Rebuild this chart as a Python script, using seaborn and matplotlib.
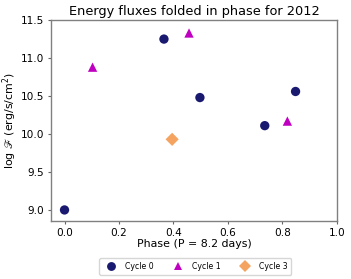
import pandas as pd
import numpy as np
import matplotlib
matplotlib.use("Agg")
import matplotlib.pyplot as plt
import seaborn as sns

# data
cycle0_phase = [0.0, 0.365, 0.497, 0.735, 0.848]
cycle0_flux = [9.00, 11.25, 10.48, 10.11, 10.56]
cycle1_phase = [0.103, 0.457, 0.818]
cycle1_flux = [10.88, 11.33, 10.17]
cycle3_phase = [0.395]
cycle3_flux = [9.93]

df = pd.concat([
    pd.DataFrame({"phase": cycle0_phase, "flux": cycle0_flux, "cycle": "Cycle 0"}),
    pd.DataFrame({"phase": cycle1_phase, "flux": cycle1_flux, "cycle": "Cycle 1"}),
    pd.DataFrame({"phase": cycle3_phase, "flux": cycle3_flux, "cycle": "Cycle 3"}),
], ignore_index=True)

sns.set_style("ticks", {"axes.edgecolor": "0.5", "text.color": "black",
                        "axes.labelcolor": "black"})
plt.rcParams['font.family'] = ['DejaVu Sans']

palette = {"Cycle 0": "#191970", "Cycle 1": "#c000c0", "Cycle 3": "#f4a460"}
markers = {"Cycle 0": "o", "Cycle 1": "^", "Cycle 3": "D"}

fig, ax = plt.subplots(figsize=(3.51, 2.79), dpi=100)
sns.scatterplot(data=df, x="phase", y="flux", hue="cycle", style="cycle",
                palette=palette, markers=markers, s=45, linewidth=0, ax=ax)

ax.set_xlim(-0.05, 1.0)
ax.set_ylim(8.855, 11.5)
ax.set_xticks(np.arange(0, 1.01, 0.2))
ax.set_yticks(np.arange(9.0, 11.51, 0.5))
ax.tick_params(labelsize=7.6, length=2.5, width=0.8, color="0.4", labelcolor="black", pad=2.5)
for sp in ax.spines.values():
    sp.set_linewidth(1.0)

ax.set_title("Energy fluxes folded in phase for 2012", fontsize=9.3, pad=4)
ax.set_xlabel("Phase (P = 8.2 days)", fontsize=7.9, labelpad=1)
ax.set_ylabel(r"log $\mathscr{F}$ (erg/s/cm$^2$)", fontsize=7.9, labelpad=1)

ax.legend(loc="upper center", bbox_to_anchor=(0.505, -0.165), ncol=3, fontsize=5.6,
          frameon=True, markerscale=0.95, handletextpad=0.8, columnspacing=2.1,
          borderpad=0.5, fancybox=True, edgecolor="#cccccc")

fig.subplots_adjust(left=0.145, right=0.96, top=0.928, bottom=0.208)
fig.savefig("out.png", dpi=100)
